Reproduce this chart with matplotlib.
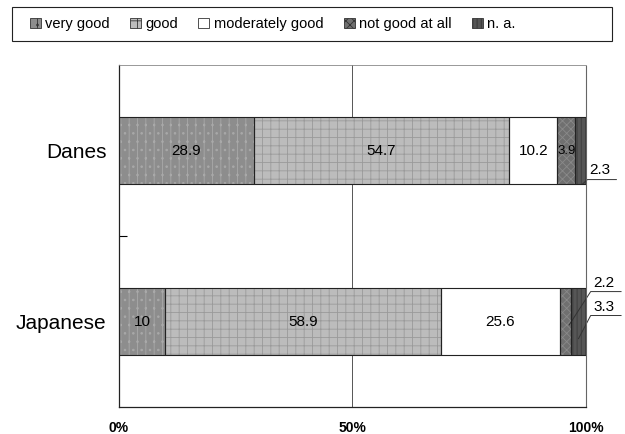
import numpy as np
import matplotlib
matplotlib.use("Agg")
import matplotlib.pyplot as plt
from matplotlib.patches import Patch

plt.rcParams["font.family"] = ["Liberation Sans", "DejaVu Sans"]
plt.rcParams["hatch.linewidth"] = 0.6

groups = ["Japanese", "Danes"]
answers = ["very good", "good", "moderately good", "not good at all", "n. a."]
danes = [28.9, 54.7, 10.2, 3.9, 2.3]
japanese = [10, 58.9, 25.6, 2.2, 3.3]
values = np.array([japanese, danes])

# fill, hatch colour and hatch pattern per answer
fills = ["#8d8d8d", "#bcbcbc", "#ffffff", "#707070", "#565656"]
hatch_cols = ["#a9a9a9", "#9a9a9a", "#ffffff", "#8a8a8a", "#3c3c3c"]
hatches = ["||..", "++", None, "xxxx", "||||"]

fig = plt.figure(figsize=(6.25, 4.34), dpi=100)
ax = fig.add_axes([0.19, 0.0622, 0.7476, 0.788])

ypos = np.arange(len(groups))
left = np.zeros(len(groups))
for k, name in enumerate(answers):
    ax.barh(ypos, values[:, k], left=left, height=0.39, color=fills[k],
            hatch=hatches[k], edgecolor=hatch_cols[k], linewidth=0, zorder=2)
    # black outline on top of the hatched fill
    ax.barh(ypos, values[:, k], left=left, height=0.39, facecolor="none",
            edgecolor="#222222", linewidth=0.8, zorder=3)
    left += values[:, k]

# value labels inside the segments
inside = {1: [0, 1, 2, 3], 0: [0, 1, 2]}
for g, ks in inside.items():
    starts = np.concatenate([[0], np.cumsum(values[g])[:-1]])
    for k in ks:
        v = values[g, k]
        fs = 9.5 if v < 5 else 11
        ax.text(starts[k] + v / 2, ypos[g], "%g" % v, ha="center", va="center",
                fontsize=fs, zorder=4)

# small values written outside with leader lines
ax.text(100.6, 0.885, "2.3", fontsize=11, va="center", ha="left")
ax.plot([99.3, 100.3, 106.5], [0.805, 0.83, 0.83], color="#333333", lw=0.7, clip_on=False)
ax.text(101.5, 0.225, "2.2", fontsize=11, va="center", ha="left")
ax.plot([96.4, 101.0, 107.5], [-0.02, 0.175, 0.175], color="#333333", lw=0.7, clip_on=False)
ax.text(101.5, 0.085, "3.3", fontsize=11, va="center", ha="left")
ax.plot([98.4, 101.0, 107.5], [-0.1, 0.035, 0.035], color="#333333", lw=0.7, clip_on=False)

ax.set_xlim(0, 100)
ax.set_ylim(-0.5, 1.5)
ax.axvline(50, color="#555555", lw=0.7, zorder=1)

ax.set_yticks(ypos)
ax.set_yticklabels(groups, fontsize=15)
ax.set_yticks([0.5], minor=True)
ax.tick_params(axis="y", which="major", length=0, pad=9)
ax.tick_params(axis="y", which="minor", length=6, direction="in", width=0.8)

ax.set_xticks([0, 50, 100])
ax.set_xticklabels(["0%", "50%", "100%"], fontsize=10, fontweight="bold")
ax.tick_params(axis="x", length=0, pad=10)

for side in ["left", "bottom"]:
    ax.spines[side].set_color("#222222")
    ax.spines[side].set_linewidth(0.9)
ax.spines["top"].set_color("#888888")
ax.spines["top"].set_linewidth(0.6)
ax.spines["right"].set_color("#666666")
ax.spines["right"].set_linewidth(0.8)
ax.spines["right"].set_linestyle((0, (1, 1)))

handles = [Patch(facecolor=fills[k], hatch=hatches[k], edgecolor="#333333",
                 linewidth=0.6) for k in range(len(answers))]
leg = fig.legend(handles, answers, loc="center left", ncol=5,
                 bbox_to_anchor=(0.038, 1 - 24 / 434),
                 fontsize=10.5, frameon=False,
                 handlelength=0.75, handleheight=0.75, handletextpad=0.3,
                 borderaxespad=0, columnspacing=1.4)

# legend box spans the full width above the plot
box = plt.Rectangle((12 / 625, 1 - 41 / 434), 600 / 625, 34 / 434,
                    transform=fig.transFigure, facecolor="none",
                    edgecolor="#222222", linewidth=0.8)
fig.patches.append(box)

fig.savefig("out.png", dpi=100)
